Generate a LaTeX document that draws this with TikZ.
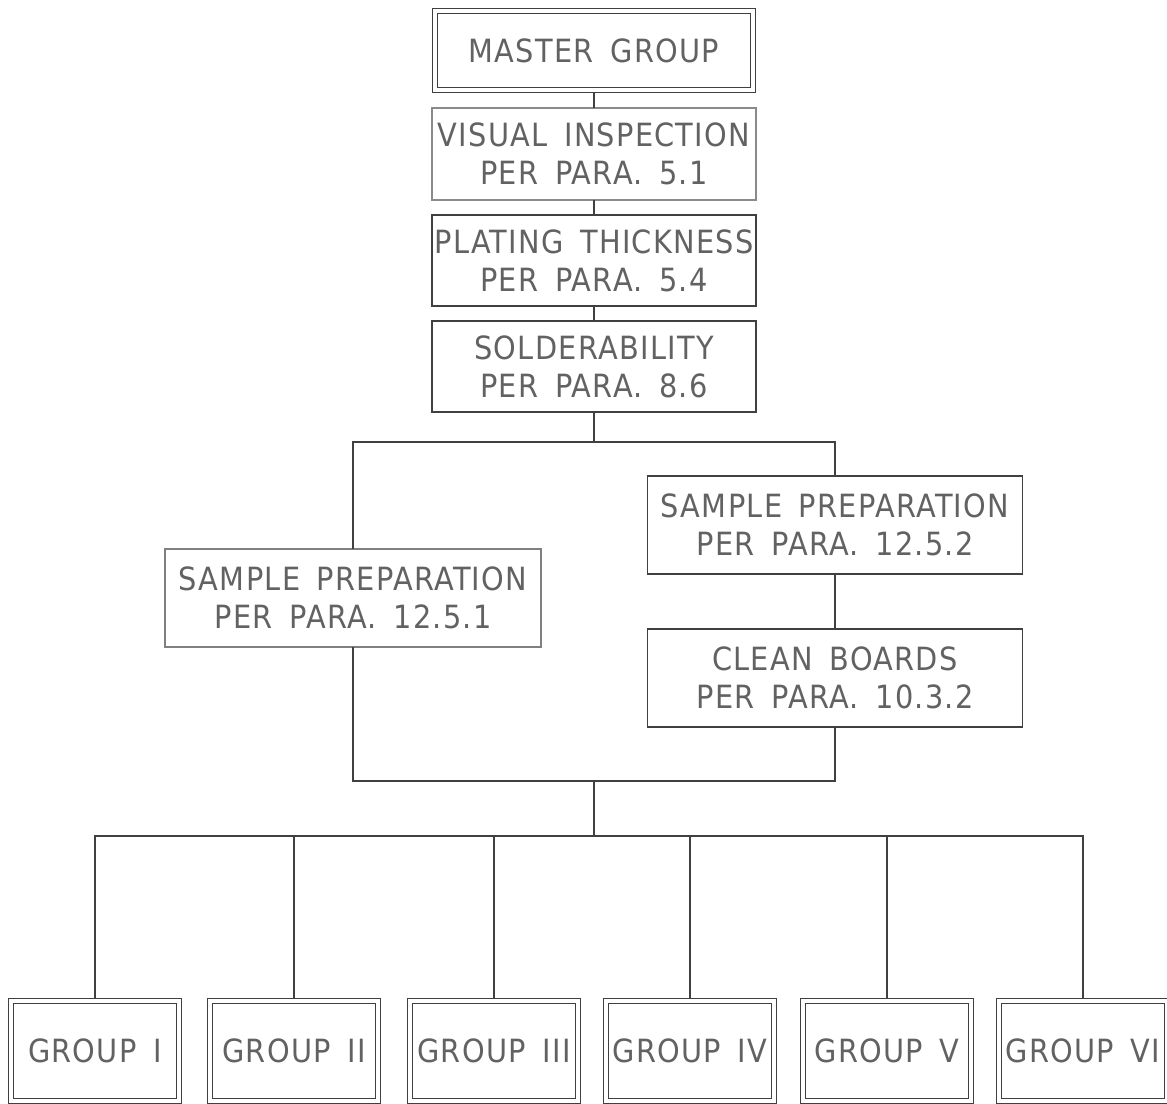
\documentclass[tikz,border=0pt]{standalone}
\usepackage{fontspec}
\setmainfont{DejaVu Sans}[FakeStretch=0.9, LetterSpace=4, WordSpace=1.6]
\definecolor{linec}{HTML}{404040}
\definecolor{lightc}{HTML}{8A8A8A}
\definecolor{textc}{HTML}{626262}
\begin{document}
\begin{tikzpicture}[x=1pt,y=-1pt,
  box/.style={draw=linec, line width=1.3pt, rectangle, inner sep=0pt, outer sep=0pt,
    align=center, text=textc, font=\fontsize{32}{38}\selectfont},
  dbox/.style={box, double=white, double distance=4pt, line width=1.1pt, outer sep=3.1pt},
  grp/.style={dbox, minimum width=168pt, minimum height=100pt},
  wire/.style={draw=linec, line width=1.3pt}]
\useasboundingbox (0,0) rectangle (1167,1103);
\fill[white] (0,0) rectangle (1167,1103);

\node[dbox, minimum width=318pt, minimum height=79pt] (master) at (594,50.5) {MASTER GROUP};
\node[box, draw=lightc, minimum width=324pt, minimum height=92pt] (vis) at (594,154) {VISUAL INSPECTION\\PER PARA. 5.1};
\node[box, minimum width=324pt, minimum height=91pt] (plat) at (594,260.5) {PLATING THICKNESS\\PER PARA. 5.4};
\node[box, minimum width=324pt, minimum height=91pt] (sold) at (594,366.5) {SOLDERABILITY\\PER PARA. 8.6};
\node[box, draw=gray, minimum width=376pt, minimum height=98pt] (sampL) at (353,598) {SAMPLE PREPARATION\\PER PARA. 12.5.1};
\node[box, minimum width=375pt, minimum height=98pt] (sampR) at (835,525) {SAMPLE PREPARATION\\PER PARA. 12.5.2};
\node[box, minimum width=375pt, minimum height=98pt] (clean) at (835,678) {CLEAN BOARDS\\PER PARA. 10.3.2};

\node[grp] (g1) at (95,1051) {GROUP I};
\node[grp] (g2) at (294,1051) {GROUP II};
\node[grp] (g3) at (494,1051) {GROUP III};
\node[grp] (g4) at (690,1051) {GROUP IV};
\node[grp] (g5) at (887,1051) {GROUP V};
\node[grp] (g6) at (1083,1051) {GROUP VI};

\coordinate (j1) at (594,442);
\coordinate (j2) at (594,781);
\coordinate (j3) at (594,836);

\draw[wire] (master.south) -- (vis.north);
\draw[wire] (vis.south) -- (plat.north);
\draw[wire] (plat.south) -- (sold.north);
\draw[wire] (sold.south) -- (j1);
\draw[wire] (sampL.north) |- (j1) -| (sampR.north);
\draw[wire] (sampR.south) -- (clean.north);
\draw[wire] (sampL.south) |- (j2) -| (clean.south);
\draw[wire] (j2) -- (j3);
\draw[wire] (g1.north) |- (j3) -| (g6.north);
\draw[wire] (g2.north) -- (g2.north |- j3);
\draw[wire] (g3.north) -- (g3.north |- j3);
\draw[wire] (g4.north) -- (g4.north |- j3);
\draw[wire] (g5.north) -- (g5.north |- j3);
\end{tikzpicture}
\end{document}
